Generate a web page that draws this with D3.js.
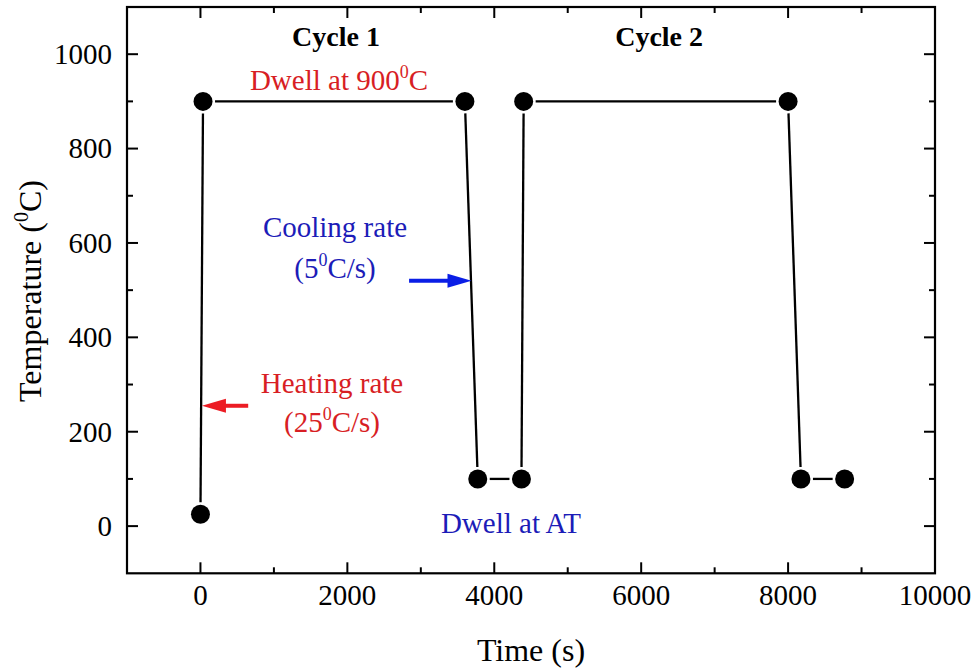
<!DOCTYPE html>
<html><head><meta charset="utf-8">
<script src="https://cdn.jsdelivr.net/npm/d3@7"></script>
<style>body{margin:0;background:#fff}</style>
</head><body><svg id="c" width="976" height="670"></svg>
<script>
// ---- data ----
const times = [0, 35, 3600, 3775, 4370, 4400, 8000, 8175, 8770];
const temps = [25, 900, 900, 100, 100, 900, 900, 100, 100];
const xTicks = [0, 2000, 4000, 6000, 8000, 10000];
const xMinor = [-1000, 1000, 3000, 5000, 7000, 9000];
const yTicks = [0, 200, 400, 600, 800, 1000];
const yMinor = [100, 300, 500, 700, 900, 1100];
const cycleLabels = ["Cycle 1", "Cycle 2"];
const cycleTimes = [1846, 6244];
const heatArrow = [650, 20, 255];     // from time, to time, temperature
const coolArrow = [2840, 3690, 520];

// ---- layout ----
const svg = d3.select("#c");
const L = 127, R = 935, T = 7, B = 573.3;
const x = d3.scaleLinear().domain([-1000, 10000]).range([L, R]);
const y = d3.scaleLinear().domain([-100, 1100]).range([B, T]);
const serif = "'Liberation Serif','Times New Roman',serif";
const red = "#d81e24", blue = "#1c1cb8";

const g = svg.append("g");

// ticks (inward on all four sides)
function ticks(vals, len) {
  vals.forEach(v => {
    g.append("line").attr("x1", x(v)).attr("x2", x(v)).attr("y1", B).attr("y2", B - len);
    g.append("line").attr("x1", x(v)).attr("x2", x(v)).attr("y1", T).attr("y2", T + len);
  });
}
function yticks(vals, len) {
  vals.forEach(v => {
    g.append("line").attr("y1", y(v)).attr("y2", y(v)).attr("x1", L).attr("x2", L + len);
    g.append("line").attr("y1", y(v)).attr("y2", y(v)).attr("x1", R).attr("x2", R - len);
  });
}
ticks(xTicks, 11); ticks(xMinor, 6);
yticks(yTicks, 11); yticks(yMinor, 6);
g.selectAll("line").attr("stroke", "#000").attr("stroke-width", 2);

// frame
svg.append("rect").attr("x", L).attr("y", T).attr("width", R - L).attr("height", B - T)
  .attr("fill", "none").attr("stroke", "#000").attr("stroke-width", 2.2);

// tick labels
svg.append("g").selectAll("text").data(xTicks).join("text")
  .attr("x", d => x(d)).attr("y", 605).attr("text-anchor", "middle")
  .attr("font-family", serif).attr("font-size", 29).text(d => d);
svg.append("g").selectAll("text").data(yTicks).join("text")
  .attr("x", 112).attr("y", d => y(d)).attr("dy", "0.34em").attr("text-anchor", "end")
  .attr("font-family", serif).attr("font-size", 29).text(d => d);

// axis titles
svg.append("text").attr("x", 531).attr("y", 661).attr("text-anchor", "middle")
  .attr("font-family", serif).attr("font-size", 32).text("Time (s)");
const yt = svg.append("text").attr("transform", "translate(41,291) rotate(-90)")
  .attr("text-anchor", "middle").attr("font-family", serif).attr("font-size", 32);
yt.append("tspan").text("Temperature (");
yt.append("tspan").attr("font-size", 20).attr("dy", -13).text("0");
yt.append("tspan").attr("dy", 13).text("C)");

// line segments with gaps near markers
const pts = times.map((t, i) => [x(t), y(temps[i])]);
const gap = 12;
for (let i = 0; i < pts.length - 1; i++) {
  const [x0, y0] = pts[i], [x1, y1] = pts[i + 1];
  const dx = x1 - x0, dy = y1 - y0, len = Math.hypot(dx, dy);
  const ux = dx / len, uy = dy / len;
  svg.append("line")
    .attr("x1", x0 + ux * gap).attr("y1", y0 + uy * gap)
    .attr("x2", x1 - ux * gap).attr("y2", y1 - uy * gap)
    .attr("stroke", "#000").attr("stroke-width", 2.3);
}
svg.append("g").selectAll("circle").data(pts).join("circle")
  .attr("cx", d => d[0]).attr("cy", d => d[1]).attr("r", 9.5).attr("fill", "#000");

// cycle labels
svg.append("g").selectAll("text").data(cycleLabels).join("text")
  .attr("x", (d, i) => x(cycleTimes[i])).attr("y", 46).attr("text-anchor", "middle")
  .attr("font-family", serif).attr("font-size", 28).attr("font-weight", "bold").text(d => d);

// annotations
function supText(cx, by, parts, color, anchor) {
  const t = svg.append("text").attr("x", cx).attr("y", by).attr("text-anchor", anchor || "middle")
    .attr("font-family", serif).attr("font-size", 29).attr("fill", color);
  t.append("tspan").text(parts[0]);
  if (parts.length > 1) {
    t.append("tspan").attr("font-size", 18).attr("dy", -12).text(parts[1]);
    t.append("tspan").attr("dy", 12).text(parts[2]);
  }
  return t;
}
supText(339, 90, ["Dwell at 900", "0", "C"], red);
supText(335, 237, ["Cooling rate"], blue);
supText(335, 278, ["(5", "0", "C/s)"], blue);
supText(332, 393, ["Heating rate"], red);
supText(332, 432, ["(25", "0", "C/s)"], red);
supText(511, 533, ["Dwell at AT"], blue);

// arrows
function arrow(t0, t1, temp, color) {
  const x0 = x(t0), x1 = x(t1), yy = y(temp);
  const dir = Math.sign(x1 - x0), hl = 24, hw = 7;
  svg.append("line").attr("x1", x0).attr("y1", yy).attr("x2", x1 - dir * hl + dir * 2).attr("y2", yy)
    .attr("stroke", color).attr("stroke-width", 4);
  svg.append("path")
    .attr("d", `M${x1},${yy} L${x1 - dir * hl},${yy - hw} L${x1 - dir * hl},${yy + hw} Z`)
    .attr("fill", color);
}
arrow(heatArrow[0], heatArrow[1], heatArrow[2], "#ec1c24");
arrow(coolArrow[0], coolArrow[1], coolArrow[2], "#0a1ee6");
</script>
</body></html>
